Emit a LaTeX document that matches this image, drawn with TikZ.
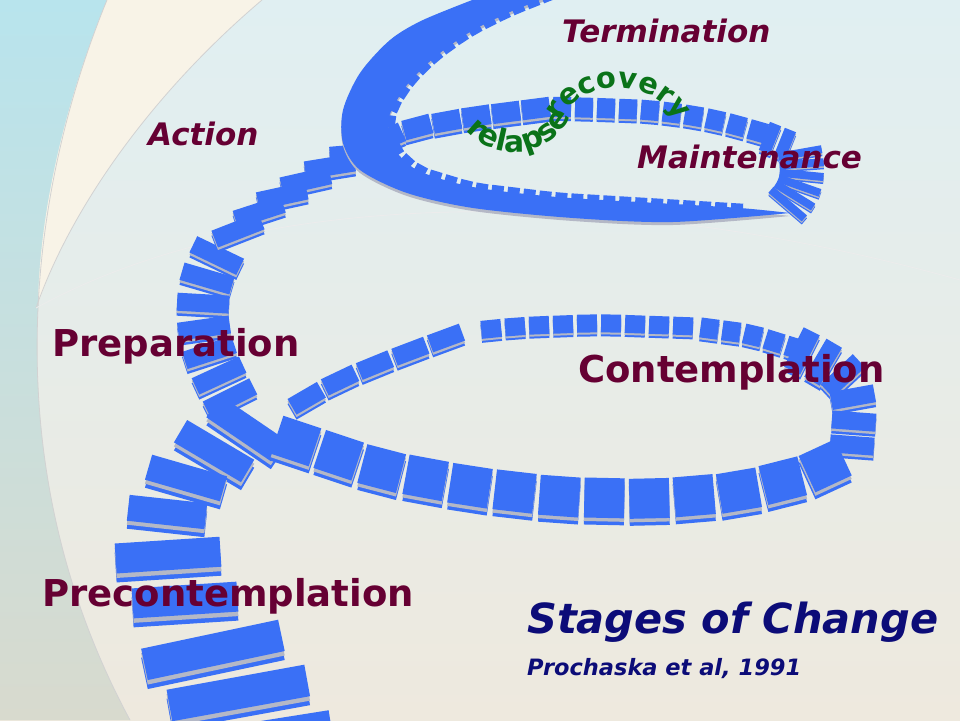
\documentclass[tikz,border=0pt]{standalone}
\usepackage{fontspec}
\usetikzlibrary{decorations.markings, decorations.text}
\newfontfamily\stagefont{DejaVu Sans}[BoldFont={DejaVu Sans Bold}, BoldItalicFont={DejaVu Sans Bold Oblique}]

\definecolor{stagered}{RGB}{102,0,51}
\definecolor{arcgreen}{RGB}{10,115,25}
\definecolor{titlenavy}{RGB}{12,12,120}
\definecolor{stairblue}{RGB}{58,112,246}
\definecolor{stairgray}{RGB}{180,184,198}
\definecolor{skycyan}{RGB}{184,228,237}
\definecolor{sandgray}{RGB}{216,218,206}
\definecolor{cream}{RGB}{248,243,231}
\definecolor{topwash}{RGB}{224,239,242}
\definecolor{bottomwash}{RGB}{238,233,222}

\tikzset{
  % plate={across}{step}{along}{twist}{colour}
  plate/.style n args={5}{decoration={markings,
      mark=between positions 0 and 1 step #2pt with {
        \fill[#5, sharp corners, rotate=#4] (-0.5*#3pt,-0.5*#1pt) rectangle (0.5*#3pt,0.5*#1pt);}},
    decorate},
  stage/.style={font=\stagefont\bfseries\fontsize{37}{40}\selectfont, text=stagered, anchor=base west},
  phase/.style={font=\stagefont\bfseries\itshape\fontsize{31}{34}\selectfont, text=stagered, anchor=base west},
  arcline/.style={draw=gray!35, line width=0.8pt},
}
% one flight of stairs: {across}{step}{along}{twist}{drop}{path}
\newcommand{\stairflight}[6]{%
  \path[plate={#1}{#2}{#3}{#4}{stairblue}, shift={(0,#5)}] #6;
  \path[plate={#1}{#2}{#3}{#4}{stairgray}, shift={(0,#5/2)}] #6;
  \path[plate={#1}{#2}{#3}{#4}{stairblue}] #6;}

\begin{document}
\begin{tikzpicture}[x=1pt, y=-1pt, every node/.style={inner sep=0pt}]
\useasboundingbox (0,0) rectangle (960,720);
\clip (0,0) rectangle (960,720);

% ---- background ----
\shade[top color=topwash, middle color=white, bottom color=bottomwash] (0,0) rectangle (960,720);
\shade[top color=skycyan, bottom color=sandgray] (0,0) -- (107,0)
  .. controls (25,200) and (-5,470) .. (130,720) -- (0,720) -- cycle;
\fill[cream] (107,0) -- (262,0) .. controls (150,95) and (70,210) .. (38,304)
  .. controls (40,200) and (70,90) .. (107,0) -- cycle;
\draw[arcline] (107,0) .. controls (25,200) and (-5,470) .. (130,720);
\draw[arcline] (262,0) .. controls (150,95) and (70,210) .. (36,308);
\draw[arcline, draw=gray!15] (36,308) .. controls (250,190) and (600,180) .. (960,280);

% ---- far side of the top loop ----
\stairflight{20}{30}{28}{0}{5}{[rounded corners=15pt] (362,150) -- (410,128) -- (470,117) -- (540,108)}
\stairflight{20}{22}{18}{0}{4}{[rounded corners=15pt] (562,107) -- (600,108) -- (650,110) -- (690,115) -- (725,122) -- (760,132)}
\stairflight{30}{16}{12}{0}{4}{(770,138) -- (790,146)}
\stairflight{44}{11}{8}{0}{3}{[rounded corners=10pt] (800,153) -- (803,170) -- (798,192) -- (786,206)}

% ---- far side of the lower loop, climbing to Action ----
\stairflight{20}{22}{18}{0}{4}{[rounded corners=15pt] (795,348) -- (750,334) -- (705,328)}
\stairflight{18}{24}{20}{0}{4}{[rounded corners=20pt] (683,326) -- (600,323) -- (520,326) -- (470,331)}
\stairflight{18}{38}{34}{0}{5}{[rounded corners=15pt] (446,338) -- (408,352) -- (370,367) -- (333,383) -- (302,401)}
\stairflight{52}{25}{18}{0}{5}{[rounded corners=14pt] (230,398) -- (220,378) -- (207,348) -- (202,315) -- (205,280) -- (218,253)}
\stairflight{18}{28}{50}{-20}{5}{[rounded corners=14pt] (238,230) -- (263,208) -- (290,191) -- (318,173) -- (345,158) -- (372,146)}

% ---- right end of the lower loop ----
\stairflight{44}{24}{18}{0}{5}{[rounded corners=12pt] (852,445) -- (855,405) -- (848,378) -- (820,360) -- (800,350)}

% ---- near strand from the bottom ----
\stairflight{140}{50}{32}{-19}{9}{[rounded corners=20pt] (262,737) -- (237,690) -- (210,645)}
\stairflight{105}{48}{30}{-17}{9}{(185,600) -- (168,555)}
\stairflight{78}{39}{26}{21}{8}{[rounded corners=14pt] (167,512) -- (185,477) -- (212,452) -- (248,427)}
\stairflight{40}{45}{40}{0}{7}{[rounded corners=25pt] (296,441) -- (383,470) -- (475,487) -- (562,497) -- (655,499) -- (738,492) -- (813,473) -- (840,458)}

% ---- near side of the top loop: sweep to the exit ----
\fill[stairgray, transform canvas={yshift=-3pt}] plot[smooth] coordinates {(790,213) (673,222) (573,218) (473,208) (407,193) (360,170) (343,143) (343,110) (360,73) (390,40) (423,20) (480,-3)}
  -- plot[smooth] coordinates {(548,-3) (510,12) (470,32) (435,57) (407,85) (389,117) (392,145) (417,170) (473,187) (557,197) (657,203) (740,208) (790,213)} -- cycle;
\fill[stairblue] plot[smooth] coordinates {(790,213) (673,222) (573,218) (473,208) (407,193) (360,170) (343,143) (343,110) (360,73) (390,40) (423,20) (480,-3)}
  -- plot[smooth] coordinates {(548,-3) (510,12) (470,32) (435,57) (407,85) (389,117) (392,145) (417,170) (473,187) (557,197) (657,203) (740,208) (790,213)} -- cycle;
\path[plate={9}{16}{12}{0}{stairblue}, rounded corners=15pt] (548,-3) -- (510,12) -- (470,32) -- (435,57) -- (407,85) -- (389,117) -- (392,145) -- (417,170) -- (473,187) -- (557,197) -- (657,203) -- (740,208);

% ---- relapse / recovery ----
\path[color=arcgreen, decoration={text along path, text align=center,
      text={|\stagefont\bfseries\fontsize{30}{30}\selectfont\color{arcgreen}|relapse}}, decorate]
  (458,120) arc[start angle=150, end angle=15, radius=64];
\path[color=arcgreen, decoration={text along path, text align=center,
      text={|\stagefont\bfseries\fontsize{29}{29}\selectfont\color{arcgreen}|recovery}}, decorate]
  (555,131) arc[start angle=190, end angle=350, x radius=64, y radius=52];

% ---- stages ----
\node[phase] (termination) at (562,42) {Termination};
\node[phase] (action) at (148,145) {Action};
\node[phase] (maintenance) at (637,168) {Maintenance};
\node[stage] (preparation) at (52,356) {Preparation};
\node[stage] (contemplation) at (578,382) {Contemplation};
\node[stage] (precontemplation) at (42,606) {Precontemplation};

% ---- title ----
\node[anchor=base west, font=\stagefont\bfseries\itshape\fontsize{41.5}{44}\selectfont, text=titlenavy] (title) at (527,633) {Stages of Change};
\node[anchor=base west, font=\stagefont\bfseries\itshape\fontsize{22.5}{26}\selectfont, text=titlenavy] (source) at (527,675) {Prochaska et al, 1991};

\end{tikzpicture}
\end{document}
